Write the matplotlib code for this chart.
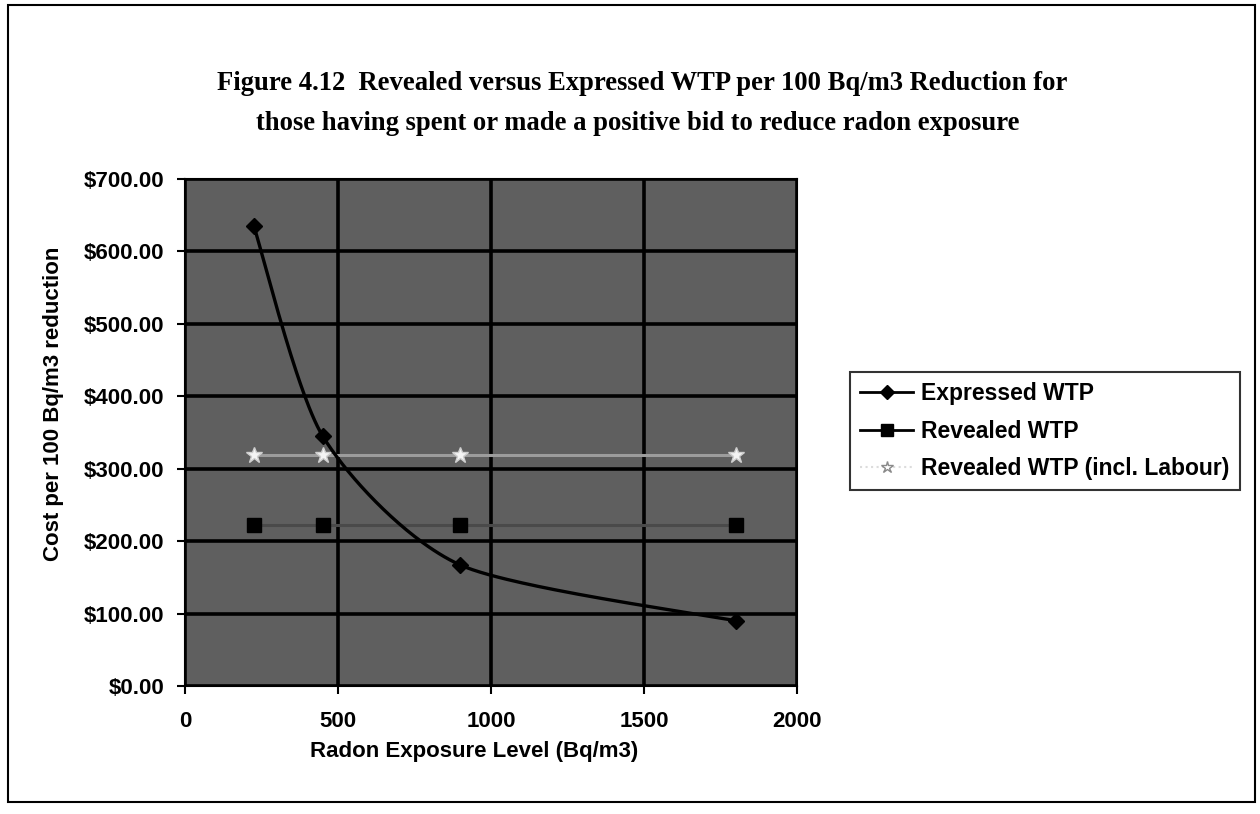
import numpy as np
import matplotlib
matplotlib.use("Agg")
import matplotlib.pyplot as plt
from matplotlib.lines import Line2D
from matplotlib.patches import Rectangle
from matplotlib.ticker import FuncFormatter

# ---- data ----
exposure_levels = [225, 450, 900, 1800]
expressed_wtp = [635, 345, 167, 90]
revealed_wtp = [222, 222, 222, 222]
revealed_wtp_labour = [319, 319, 319, 319]
series_names = ["Expressed WTP", "Revealed WTP", "Revealed WTP (incl. Labour)"]
title_lines = ["Figure 4.12  Revealed versus Expressed WTP per 100 Bq/m3 Reduction for",
               "those having spent or made a positive bid to reduce radon exposure"]
x_label = "Radon Exposure Level (Bq/m3)"
y_label = "Cost per 100 Bq/m3 reduction"
x_ticks = [0, 500, 1000, 1500, 2000]
y_ticks = [0, 100, 200, 300, 400, 500, 600, 700]

W, H = 1260, 814
fig = plt.figure(figsize=(W / 100, H / 100), dpi=100)
fig.patch.set_facecolor("white")

sans = ["Liberation Sans", "DejaVu Sans"]
serif = ["Liberation Serif", "DejaVu Serif"]

# axes placement (pixels -> fraction)
L, R, T, B = 185, 797, 179, 686
ax = fig.add_axes([L / W, 1 - B / H, (R - L) / W, (B - T) / H])
ax.set_facecolor("#5f5f5f")
ax.set_xlim(0, 2000)
ax.set_ylim(0, 700)
ax.set_xticks(x_ticks)
ax.set_yticks(y_ticks)
ax.yaxis.set_major_formatter(FuncFormatter(lambda v, p: f"${v:,.2f}"))
ax.grid(True, color="black", linewidth=2.6)
ax.set_axisbelow(True)
for s in ax.spines.values():
    s.set_color("black")
    s.set_linewidth(1.5)
ax.tick_params(axis="both", direction="out", length=6, width=1.5, color="black")
ax.tick_params(axis="y", pad=9)
ax.tick_params(axis="x", pad=12)
for lab in ax.get_xticklabels() + ax.get_yticklabels():
    lab.set_family(sans)
    lab.set_fontweight("bold")
    lab.set_fontsize(16)


# Excel-style smoothed line (Bezier through the points, computed in screen space)
def smooth_curve(xs, ys, k=1 / 8, n=60):
    px = np.asarray(xs, float) / 2000 * (R - L)
    py = np.asarray(ys, float) / 700 * (B - T)
    P = np.column_stack([px, py])
    out = []
    for i in range(len(P) - 1):
        p0 = P[i - 1] if i > 0 else P[i]
        p1, p2 = P[i], P[i + 1]
        p3 = P[i + 2] if i + 2 < len(P) else P[i + 1]
        c1 = p1 + (p2 - p0) * k
        c2 = p2 - (p3 - p1) * k
        t = np.linspace(0, 1, n)[:, None]
        seg = ((1 - t) ** 3) * p1 + 3 * ((1 - t) ** 2) * t * c1 + 3 * (1 - t) * t ** 2 * c2 + t ** 3 * p2
        out.append(seg)
    C = np.vstack(out)
    return C[:, 0] / (R - L) * 2000, C[:, 1] / (B - T) * 700


# Revealed WTP (incl. Labour): light line with white stars
ax.plot(exposure_levels, revealed_wtp_labour, color="#9c9c9c", linewidth=2.2, zorder=3)
ax.plot(exposure_levels, revealed_wtp_labour, linestyle="none", marker="*", markersize=12,
        markerfacecolor="#f4f4f4", markeredgecolor="#cfcfcf", zorder=4)

# Revealed WTP: dark line (barely visible) with squares
ax.plot(exposure_levels, revealed_wtp, color="#4a4a4a", linewidth=2.2, zorder=3)
ax.plot(exposure_levels, revealed_wtp, linestyle="none", marker="s", markersize=10,
        color="black", zorder=4)

# Expressed WTP: smoothed black line with diamonds
sx, sy = smooth_curve(exposure_levels, expressed_wtp)
ax.plot(sx, sy, color="black", linewidth=2.4, zorder=5)
ax.plot(exposure_levels, expressed_wtp, linestyle="none", marker="D", markersize=8,
        color="black", zorder=6)

# legend
handles = [
    Line2D([], [], color="black", linewidth=2, marker="D", markersize=7),
    Line2D([], [], color="black", linewidth=2, marker="s", markersize=8),
    Line2D([], [], color="#dcdcdc", linewidth=1.5, linestyle=":", marker="*", markersize=9,
           markerfacecolor="white", markeredgecolor="#8a8a8a"),
]
leg = fig.legend(handles, series_names, loc="upper left",
                 bbox_to_anchor=(850 / W, 1 - 372 / H), frameon=True, fancybox=False,
                 prop={"family": sans, "weight": "bold", "size": 16.5},
                 handlelength=2.3, handletextpad=0.35, labelspacing=0.62,
                 borderpad=0.45, borderaxespad=0)
leg.get_frame().set_edgecolor("black")
leg.get_frame().set_linewidth(1.5)

# titles and axis labels
fig.text(642 / W, 1 - 83 / H, title_lines[0], ha="center", va="center",
         family=serif, fontweight="bold", fontsize=19.2)
fig.text(638 / W, 1 - 123 / H, title_lines[1], ha="center", va="center",
         family=serif, fontweight="bold", fontsize=19.2)
fig.text(474 / W, 1 - 752 / H, x_label, ha="center", va="center",
         family=sans, fontweight="bold", fontsize=16)
fig.text(53 / W, 1 - 404 / H, y_label, ha="center", va="center", rotation=90,
         family=sans, fontweight="bold", fontsize=16)

# outer chart border
fig.patches.append(Rectangle((8 / W, 1 - 802 / H), (1255 - 8) / W, (802 - 5) / H,
                             transform=fig.transFigure, fill=False,
                             edgecolor="black", linewidth=1.5))

fig.savefig("out.png", dpi=100, facecolor="white")
